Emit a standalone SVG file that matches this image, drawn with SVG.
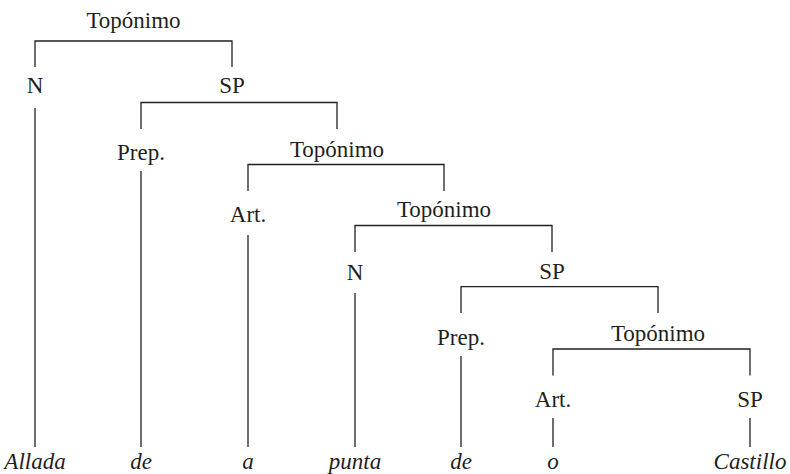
<svg xmlns="http://www.w3.org/2000/svg" width="790" height="474" viewBox="0 0 790 474">
<style>
text{font-family:'Liberation Serif','Times New Roman',serif;font-size:23px;fill:#231f20;text-anchor:middle}
.w{font-style:italic}
.c{fill:none;stroke:#231f20;stroke-width:1.3}
</style>
<rect width="790" height="474" fill="#fff"/>
<g id="connectors" class="c">
<path d="M35 67V41H232V67"/>
<path d="M141 129V102.5H337V129"/>
<path d="M248 191V164.5H444V191"/>
<path d="M355 252V225.5H552V252"/>
<path d="M461 313V286.7H658V313"/>
<path d="M553 375.5V349H750V375.5"/>
<path d="M35 108V447"/>
<path d="M141 171V447"/>
<path d="M248 235V447"/>
<path d="M355 293V447"/>
<path d="M461 356V447"/>
<path d="M553 418V447"/>
<path d="M750 418V447"/>
</g>
<g id="n0"><text x="133.5" y="28">Topónimo</text></g>
<g id="n1"><text x="35" y="93">N</text></g>
<g id="n2"><text x="232" y="93">SP</text></g>
<g id="n3"><text x="141" y="160">Prep.</text></g>
<g id="n4"><text x="337" y="157">Topónimo</text></g>
<g id="n5"><text x="248" y="222">Art.</text></g>
<g id="n6"><text x="444" y="217">Topónimo</text></g>
<g id="n7"><text x="355" y="280">N</text></g>
<g id="n8"><text x="552" y="279">SP</text></g>
<g id="n9"><text x="461" y="345">Prep.</text></g>
<g id="n10"><text x="658" y="341">Topónimo</text></g>
<g id="n11"><text x="553" y="407">Art.</text></g>
<g id="n12"><text x="750" y="407">SP</text></g>
<g id="w1"><text class="w" x="35" y="469">Allada</text></g>
<g id="w2"><text class="w" x="141" y="469">de</text></g>
<g id="w3"><text class="w" x="248" y="469">a</text></g>
<g id="w4"><text class="w" x="355" y="469">punta</text></g>
<g id="w5"><text class="w" x="461" y="469">de</text></g>
<g id="w6"><text class="w" x="553" y="469">o</text></g>
<g id="w7"><text class="w" x="750" y="469">Castillo</text></g>
</svg>
